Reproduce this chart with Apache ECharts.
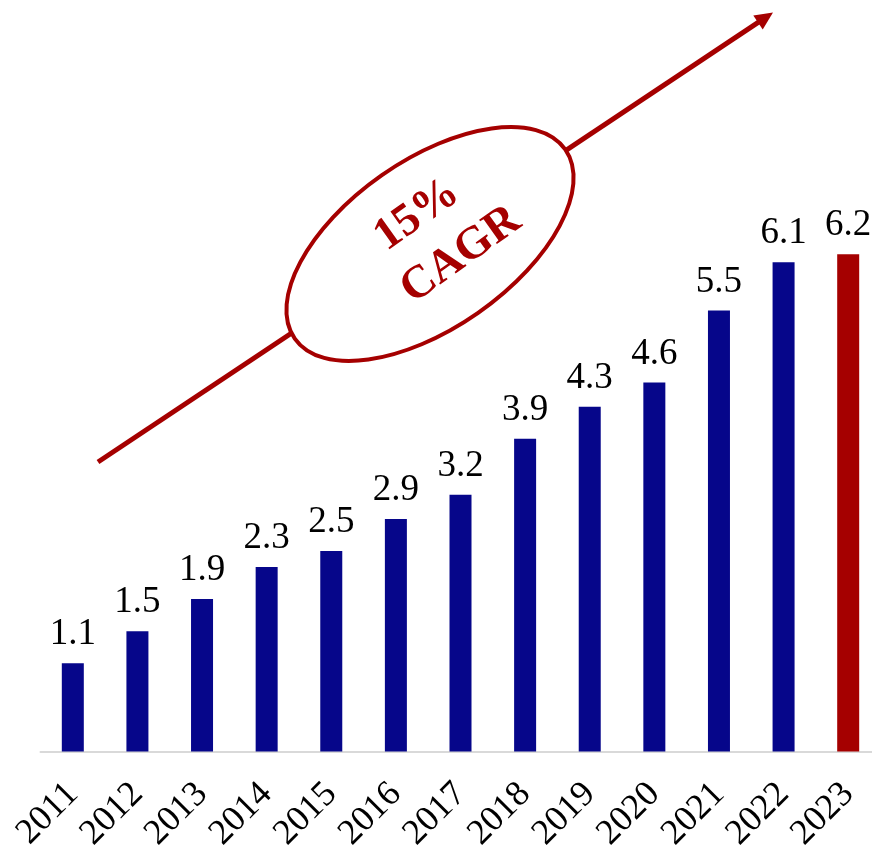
<!DOCTYPE html>
<html>
<head>
<meta charset="utf-8">
<style>
  html, body { margin: 0; padding: 0; background: #ffffff; }
  #chart { width: 872px; height: 853px; }
</style>
<script src="https://cdn.jsdelivr.net/npm/echarts@6/dist/echarts.min.js"></script>
</head>
<body>
<div id="chart"></div>
<script>
// Yearly values, the final year shown in the highlight colour
const years = ['2011', '2012', '2013', '2014', '2015', '2016', '2017', '2018', '2019', '2020', '2021', '2022', '2023'];
const values = [1.1, 1.5, 1.9, 2.3, 2.5, 2.9, 3.2, 3.9, 4.3, 4.6, 5.5, 6.1, 6.2];
const growthLines = ['15%', 'CAGR'];

const BLUE = '#06068a';
const RED = '#a50000';
const SERIF = '"Liberation Serif", "Times New Roman", serif';

const barData = values.map((v, i) => ({
  value: v,
  itemStyle: { color: i === values.length - 1 ? RED : BLUE }
}));

// Growth arrow running up to the right, with the CAGR ellipse on it
const ang = Math.atan2(462 - 12.5, 773 - 98); // rise angle of the arrow
const ux = Math.cos(ang), uy = -Math.sin(ang);
const nx = Math.sin(ang), ny = Math.cos(ang);
const tip = [773, 12.5];
const headLen = 18, headHalf = 8.5;
const base = [tip[0] - headLen * ux, tip[1] - headLen * uy];

const chart = echarts.init(document.getElementById('chart'));
chart.setOption({
  backgroundColor: '#ffffff',
  animation: false,
  grid: {
    left: 40.5, width: 840, top: 29.7, bottom: 101.5,
    containLabel: false,
    outerBoundsMode: 'none'
  },
  xAxis: {
    type: 'category',
    data: years,
    axisLine: { show: true, lineStyle: { color: '#d9d9d9', width: 2 } },
    axisTick: { show: false },
    axisLabel: {
      rotate: 45,
      interval: 0,
      margin: 37,
      color: '#000000',
      fontFamily: SERIF,
      fontSize: 36
    }
  },
  yAxis: {
    type: 'value',
    min: 0,
    max: 9,
    show: false,
    splitLine: { show: false }
  },
  series: [{
    type: 'bar',
    data: barData,
    barWidth: 22,
    label: {
      show: true,
      position: 'top',
      distance: 10,
      color: '#000000',
      fontFamily: SERIF,
      fontSize: 37,
      formatter: p => p.value.toFixed(1)
    }
  }],
  graphic: [
    {
      type: 'line',
      z: 10,
      shape: { x1: 98, y1: 462, x2: base[0] + 2 * ux, y2: base[1] + 2 * uy },
      style: { stroke: RED, lineWidth: 5 }
    },
    {
      type: 'polygon',
      z: 10,
      shape: {
        points: [
          tip,
          [base[0] + headHalf * nx, base[1] + headHalf * ny],
          [base[0] - headHalf * nx, base[1] - headHalf * ny]
        ]
      },
      style: { fill: RED }
    },
    {
      type: 'ellipse',
      z: 11,
      x: 430,
      y: 244,
      rotation: 0.61,
      shape: { cx: 0, cy: 0, rx: 165, ry: 84 },
      style: { fill: '#ffffff', stroke: RED, lineWidth: 4 }
    },
    {
      type: 'text',
      z: 12,
      x: 417,
      y: 215,
      rotation: 0.62,
      style: {
        text: growthLines[0],
        fill: RED,
        font: 'bold 46px ' + SERIF,
        textAlign: 'center',
        textVerticalAlign: 'middle'
      }
    },
    {
      type: 'text',
      z: 12,
      x: 461,
      y: 255,
      rotation: 0.62,
      style: {
        text: growthLines[1],
        fill: RED,
        font: 'bold 46px ' + SERIF,
        textAlign: 'center',
        textVerticalAlign: 'middle'
      }
    }
  ]
});
</script>
</body>
</html>
